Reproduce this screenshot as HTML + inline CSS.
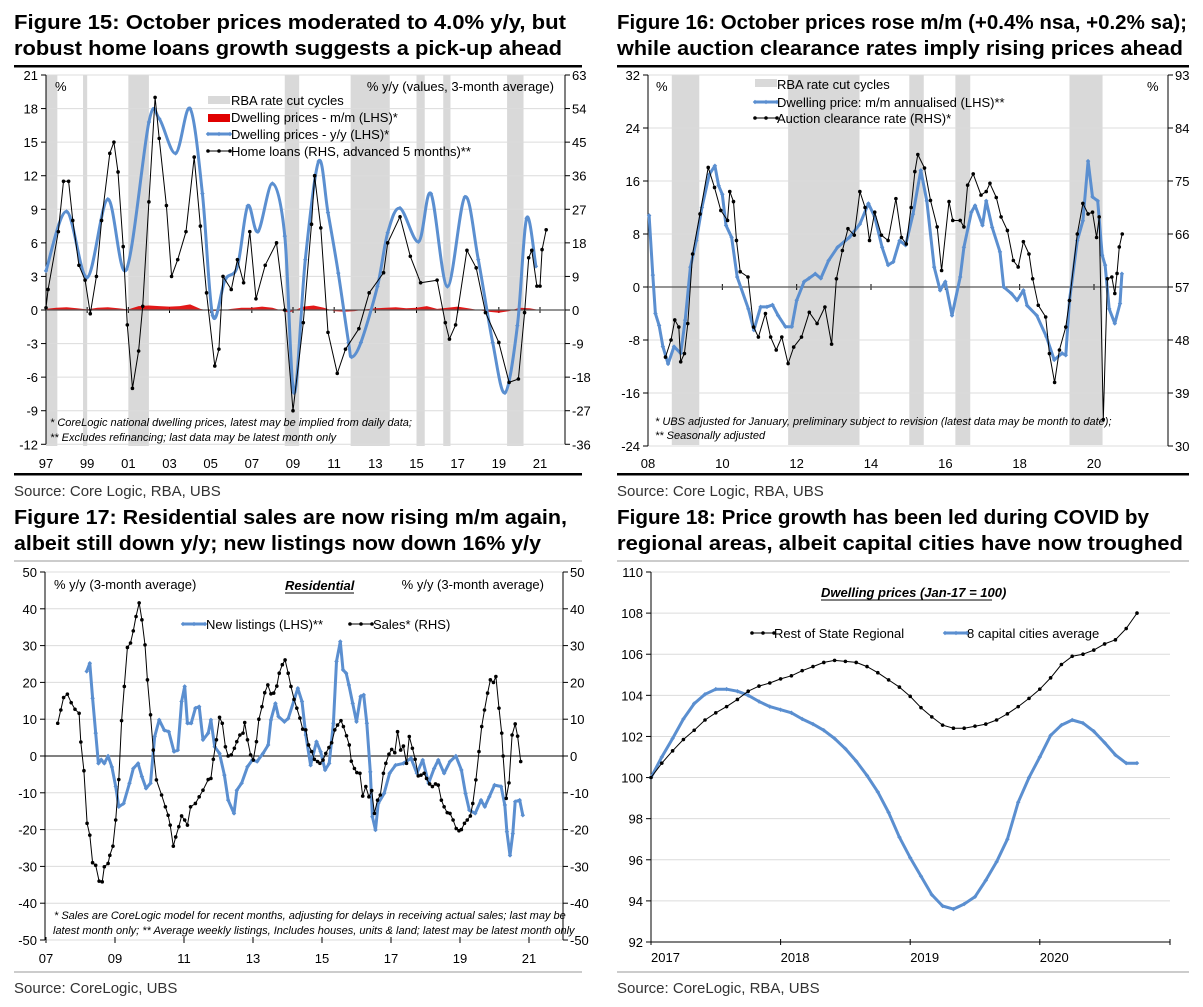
<!DOCTYPE html>
<html><head><meta charset="utf-8"><style>
html,body{margin:0;padding:0;background:#fff}
svg{display:block;font-family:"Liberation Sans",Arial,sans-serif}
.t{font-weight:bold;font-size:20px;fill:#000}
.tk{font-size:13px;fill:#000}
.lg{font-size:13px;fill:#000}
.fn{font-size:11px;font-style:italic;fill:#000}
.src{font-size:15px;fill:#333}
</style></head><body>
<svg id="s" width="1203" height="1007" viewBox="0 0 1203 1007" xmlns="http://www.w3.org/2000/svg">
<g>
<text class="t" x="14" y="29" textLength="552" lengthAdjust="spacingAndGlyphs">Figure 15: October prices moderated to 4.0% y/y, but</text>
<text class="t" x="14" y="55" textLength="548" lengthAdjust="spacingAndGlyphs">robust home loans growth suggests a pick-up ahead</text></g>
<g>
<text class="t" x="617" y="29" textLength="570" lengthAdjust="spacingAndGlyphs">Figure 16: October prices rose m/m (+0.4% nsa, +0.2% sa);</text>
<text class="t" x="617" y="55" textLength="566" lengthAdjust="spacingAndGlyphs">while auction clearance rates imply rising prices ahead</text></g>
<g>
<text class="t" x="14" y="524" textLength="553" lengthAdjust="spacingAndGlyphs">Figure 17: Residential sales are now rising m/m again,</text>
<text class="t" x="14" y="550" textLength="527" lengthAdjust="spacingAndGlyphs">albeit still down y/y; new listings now down 16% y/y</text></g>
<g>
<text class="t" x="617" y="524" textLength="532" lengthAdjust="spacingAndGlyphs">Figure 18: Price growth has been led during COVID by</text>
<text class="t" x="617" y="550" textLength="566" lengthAdjust="spacingAndGlyphs">regional areas, albeit capital cities have now troughed</text></g>
<rect x="14" y="65" width="568" height="2.5" fill="#000"/>
<rect x="617" y="65" width="572" height="2.5" fill="#000"/>
<rect x="14" y="473" width="568" height="2.5" fill="#000"/>
<rect x="617" y="473" width="572" height="2.5" fill="#000"/>
<rect x="14" y="560" width="568" height="2" fill="#ccc"/>
<rect x="617" y="560" width="572" height="2" fill="#ccc"/>
<rect x="14" y="971" width="568" height="2" fill="#ccc"/>
<rect x="617" y="971" width="572" height="2" fill="#ccc"/>
<text class="src" x="14" y="496">Source:  Core Logic, RBA, UBS</text>
<text class="src" x="617" y="496">Source:  Core Logic, RBA, UBS</text>
<text class="src" x="14" y="993">Source: CoreLogic, UBS</text>
<text class="src" x="617" y="993">Source: CoreLogic, RBA, UBS</text>
</svg>
<script>
// ---------- Figure 15 data ----------
const f15Shade=[[1997.0,1997.55],[1998.8,1999.0],[2001.0,2002.0],[2008.6,2009.3],[2011.8,2013.7],[2015.0,2015.4],[2016.3,2016.65],[2019.4,2020.2]];
const f15YoyT=[1997.0,1998.0,1999.0,2000.0,2000.9,2002.0,2002.5,2003.3,2004.0,2004.6,2005.1,2005.7,2006.3,2006.8,2007.3,2008.0,2008.6,2009.05,2009.6,2010.25,2010.7,2011.2,2011.7,2011.85,2012.3,2013.1,2013.6,2014.2,2015.1,2015.7,2016.5,2017.35,2018.0,2018.7,2019.3,2019.9,2020.35,2020.8];
const f15YoyV=[3.5,8.8,2.9,9.9,3.6,16.8,17.1,14.0,18,10.4,-0.5,2.7,3.9,9.3,7.0,11.3,6.6,-7.4,4.5,13.3,8.7,3.3,-2.9,-4.2,-2.9,2.1,6.9,9.1,6.1,10.4,2.1,10.1,4.5,-2.9,-7.4,-1.4,8.2,3.9];
const f15LoanT=[1997.0,1997.1,1997.6,1997.85,1998.1,1998.3,1998.6,1998.9,1999.15,1999.45,1999.7,2000.1,2000.3,2000.5,2000.75,2000.95,2001.2,2001.5,2001.7,2002.0,2002.3,2002.5,2002.85,2003.1,2003.4,2003.8,2004.2,2004.5,2004.8,2005.2,2005.4,2005.6,2006.0,2006.3,2006.6,2006.9,2007.2,2007.65,2008.2,2008.6,2009.0,2009.5,2009.9,2010.05,2010.35,2010.7,2011.15,2011.55,2012.2,2012.7,2013.4,2013.6,2014.2,2014.7,2015.2,2016.0,2016.4,2016.6,2016.9,2017.45,2017.9,2018.35,2019.0,2019.5,2019.95,2020.25,2020.45,2020.6,2020.85,2021.0,2021.1,2021.3];
const f15LoanV=[0.6,5.5,21,34.5,34.5,24,12,8,-1,9,24,42,45,37,17,-4,-21,-11,1,29,57,46,28,9,13.5,21,41,22.5,4.6,-15,-10.5,9,5.5,13.5,7.3,21,3,12,18,0,-27,-3.4,23,36,22,-6,-17,-10.5,-5,4.6,10,18,25,14.4,7.3,8,-3.4,-7.8,-4,16,11.3,-0.7,-8.7,-19.4,-18.5,-0.7,14,16,6.4,6.4,16.2,21.5];
const f15MomT=[1997.0,1997.5,1998.0,1998.5,1999.0,1999.5,2000.0,2000.5,2001.0,2001.5,2002.0,2002.5,2003.0,2003.5,2004.0,2004.5,2005.0,2005.5,2006.0,2006.5,2007.0,2007.5,2008.0,2008.8,2009.5,2010.0,2010.5,2011.0,2011.5,2012.0,2012.5,2013.0,2013.5,2014.0,2014.5,2015.0,2015.5,2016.0,2016.5,2017.0,2017.5,2018.0,2018.5,2019.0,2019.5,2020.0,2020.5,2020.8];
const f15MomV=[0.1,0.2,0.25,0.15,0.05,0.2,0.25,0.15,0.05,0.35,0.4,0.35,0.3,0.35,0.5,0.1,-0.1,-0.05,0.1,0.2,0.2,0.3,0.2,-0.25,0.3,0.4,0.2,-0.1,-0.15,-0.1,0.05,0.15,0.2,0.25,0.15,0.2,0.35,0.1,0.2,0.3,0.15,0.0,-0.15,-0.25,-0.1,0.2,0.15,0.05];
const f15LTicks=[21,18,15,12,9,6,3,0,-3,-6,-9,-12];
const f15RTicks=[63,54,45,36,27,18,9,0,-9,-18,-27,-36];
const f15XTicks=['97','99','01','03','05','07','09','11','13','15','17','19','21'];
// ---------- Figure 16 data ----------
const f16Shade=[[2008.64,2009.38],[2011.77,2013.69],[2015.03,2015.42],[2016.27,2016.67],[2019.34,2020.23]];
const f16DwT=[2008.03,2008.13,2008.2,2008.3,2008.4,2008.54,2008.7,2008.88,2009.0,2009.14,2009.3,2009.45,2009.65,2009.8,2009.9,2010.0,2010.1,2010.25,2010.4,2010.7,2010.85,2011.03,2011.2,2011.35,2011.5,2011.7,2011.87,2012.0,2012.2,2012.33,2012.5,2012.65,2012.86,2013.1,2013.42,2013.7,2013.93,2014.1,2014.3,2014.46,2014.6,2014.77,2014.93,2015.13,2015.34,2015.5,2015.7,2015.86,2016.0,2016.18,2016.4,2016.5,2016.7,2016.8,2017.0,2017.1,2017.26,2017.47,2017.57,2017.78,2017.93,2018.1,2018.2,2018.46,2018.72,2018.93,2019.14,2019.24,2019.34,2019.55,2019.7,2019.84,2019.96,2020.1,2020.22,2020.3,2020.41,2020.56,2020.7,2020.75];
const f16DwV=[10.8,1.8,-4,-5.8,-9,-11.6,-9,-10,-5,3,7,12,17,18.3,15.3,14,9.3,7.5,1.5,-3.3,-6.5,-3,-3,-2.7,-4.3,-6,-6,-2,0.8,1.3,2,1.3,4,6,7.5,9.5,12.6,10.6,6,3.3,3.8,7,6.3,11,17.6,13,3,-0.5,0.8,-4.3,1.5,6,11.3,12.3,9.3,13,9,5.3,0,-1,-2,-0.5,-2.8,-4.3,-7.5,-11,-10,-10.3,-2,7,10,19,13.6,13,4.8,3.3,-3.3,-5.5,-2.5,2];
const f16AcT=[2008.47,2008.62,2008.72,2008.83,2008.88,2008.98,2009.07,2009.2,2009.4,2009.62,2009.79,2009.96,2010.14,2010.2,2010.3,2010.38,2010.48,2010.69,2010.84,2010.97,2011.16,2011.3,2011.45,2011.6,2011.77,2011.92,2012.13,2012.34,2012.55,2012.76,2012.94,2013.07,2013.23,2013.38,2013.55,2013.7,2013.84,2013.96,2014.1,2014.28,2014.46,2014.67,2014.82,2014.95,2015.08,2015.18,2015.26,2015.44,2015.6,2015.78,2015.9,2016.1,2016.2,2016.4,2016.5,2016.6,2016.75,2016.96,2017.1,2017.2,2017.37,2017.5,2017.67,2017.83,2017.96,2018.1,2018.25,2018.35,2018.5,2018.7,2018.8,2018.94,2019.07,2019.24,2019.34,2019.55,2019.7,2019.84,2019.96,2020.07,2020.14,2020.25,2020.36,2020.48,2020.56,2020.62,2020.68,2020.76];
const f16AcV=[45.1,48,51.4,50.2,44.3,45.7,50.8,62.6,69.4,77.3,73.9,70,68.3,73.2,71.5,64.9,59.6,58.7,50.2,48.5,52.5,48.5,46.3,48.5,44,46.8,48.5,52.7,50.8,53.6,47.3,58.4,63.2,66.9,65.8,73.2,70.5,64.9,69.7,65.8,64.9,72,65.4,64.3,70.5,76.6,79.5,77.2,71.7,67.2,59.8,71.5,68.3,68.3,67.2,74.3,76.2,72.6,73.2,74.6,72.2,68.9,66.6,61.5,60.4,64.7,62.6,58.4,53.9,51.9,45.7,40.8,46.3,50.2,54.7,66,71.2,69.4,69.7,65.4,68.9,34.5,58.4,58.7,55.9,59.3,63.8,66];
const f16LTicks=[32,24,16,8,0,-8,-16,-24];
const f16RTicks=[93,84,75,66,57,48,39,30];
const f16XTicks=['08','10','12','14','16','18','20'];
// ---------- Figure 17 data ----------
const f17NlT=[2008.18,2008.27,2008.35,2008.44,2008.52,2008.6,2008.69,2008.8,2008.91,2009.02,2009.11,2009.25,2009.42,2009.53,2009.67,2009.78,2009.9,2010.03,2010.15,2010.28,2010.43,2010.56,2010.71,2010.82,2010.93,2011.02,2011.1,2011.21,2011.33,2011.44,2011.55,2011.7,2011.78,2011.89,2012.03,2012.17,2012.28,2012.45,2012.53,2012.67,2012.84,2012.98,2013.12,2013.29,2013.44,2013.52,2013.65,2013.74,2013.91,2014.02,2014.19,2014.3,2014.42,2014.53,2014.67,2014.84,2014.96,2015.09,2015.21,2015.33,2015.42,2015.53,2015.61,2015.7,2015.78,2015.89,2016.0,2016.12,2016.21,2016.3,2016.4,2016.46,2016.55,2016.63,2016.8,2016.96,2017.13,2017.36,2017.58,2017.75,2017.92,2018.09,2018.25,2018.37,2018.54,2018.71,2018.88,2019.04,2019.16,2019.27,2019.44,2019.61,2019.72,2019.85,2020.0,2020.19,2020.3,2020.36,2020.45,2020.53,2020.6,2020.73,2020.82];
const f17NlV=[23,25.2,15.7,6.2,-2,-1,-2,0,-3,-8.3,-13.8,-12.9,-7.4,-3.4,-2,-5.6,-8.8,-7.4,5.3,9.8,7,6.6,1.2,1.6,14.8,18.9,8.9,8.9,13,13.4,4.4,6.2,9.8,2.5,0.7,-5.2,-12,-15.6,-9.3,-7.4,-2.9,-1.1,-1.5,0.7,3,9.8,14.3,10.7,9.3,10.2,15.2,18.4,14.8,5.7,-2.5,3.9,1.2,-3.8,-2,8.9,25.7,31.1,23.4,22.5,19.3,14.3,9.3,16.2,16.6,8.9,-4.3,-16.5,-20.1,-12.9,-10.2,-4.7,-2.5,-2,-0.6,-4.7,-1.1,-7.4,-3.4,-1.1,-4.7,-1.5,0,-3.8,-10.2,-14.7,-15.6,-12,-13.8,-11.1,-7.9,-8.3,-13.3,-20.6,-27,-21.1,-12.4,-12,-16.1];
const f17SaT=[2007.34,2007.43,2007.51,2007.62,2007.73,2007.84,2007.96,2008.01,2008.1,2008.19,2008.27,2008.35,2008.44,2008.54,2008.63,2008.69,2008.8,2008.85,2008.94,2009.02,2009.11,2009.19,2009.27,2009.36,2009.45,2009.53,2009.61,2009.7,2009.78,2009.87,2009.94,2010.03,2010.11,2010.2,2010.35,2010.46,2010.54,2010.6,2010.69,2010.76,2010.85,2010.93,2011.02,2011.1,2011.19,2011.33,2011.44,2011.55,2011.7,2011.78,2011.85,2011.94,2012.03,2012.11,2012.2,2012.28,2012.37,2012.46,2012.53,2012.62,2012.71,2012.76,2012.84,2012.93,2013.01,2013.1,2013.17,2013.26,2013.34,2013.43,2013.52,2013.6,2013.69,2013.76,2013.85,2013.93,2014.02,2014.1,2014.19,2014.27,2014.36,2014.44,2014.53,2014.61,2014.7,2014.78,2014.87,2014.94,2015.03,2015.11,2015.2,2015.28,2015.37,2015.45,2015.55,2015.62,2015.71,2015.79,2015.85,2015.94,2016.01,2016.1,2016.18,2016.27,2016.36,2016.44,2016.52,2016.61,2016.69,2016.78,2016.85,2016.94,2017.02,2017.11,2017.19,2017.28,2017.36,2017.45,2017.53,2017.62,2017.7,2017.79,2017.87,2017.96,2018.03,2018.12,2018.2,2018.29,2018.37,2018.46,2018.54,2018.63,2018.71,2018.8,2018.89,2018.97,2019.04,2019.13,2019.21,2019.3,2019.37,2019.46,2019.55,2019.63,2019.71,2019.8,2019.88,2019.97,2020.04,2020.13,2020.21,2020.25,2020.34,2020.42,2020.51,2020.6,2020.67,2020.76];
const f17SaV=[8.9,12.5,15.9,16.8,14.5,12.7,11.6,3.8,-4,-18.3,-21.5,-29,-29.7,-34,-34.2,-30.1,-29.2,-27,-24.5,-17.4,-6.4,9.6,18.9,29.5,30.7,34,37.9,41.6,37,30.2,20.7,11.2,1.6,-6.5,-10.6,-13.8,-16.1,-18.8,-24.5,-22,-19.2,-16.3,-17.4,-18.8,-13.8,-12.9,-11.1,-9.3,-6.4,-6.1,-0.9,4.4,10.5,8.9,2.5,0,0.3,2.1,3.9,5.7,6.2,9.1,4.4,0.3,-1.1,3.9,10,13.4,17.2,19.3,16.9,17.1,19,22.5,24.8,26.1,22.5,18.9,15.4,13,10.3,7.3,7.1,3,1.2,-0.9,-1.5,-2,-1.1,0.7,2.3,3.6,7.1,8.4,9.6,8,5.5,3,-1.4,-3.4,-4.5,-4.7,-10.9,-8.3,-11.1,-9.4,-15.6,-12,-10.6,-4.7,-2,0.5,1.8,0.9,6.6,1.6,2.7,-2,5.3,2.1,-0.9,-5.4,-5.2,-4.7,-6.1,-7.6,-8.3,-7.6,-7.9,-12,-13.8,-15.4,-15.6,-17.4,-19.7,-20.3,-20,-18.3,-17.4,-16.3,-12.9,-6.5,1.2,8,12.5,17.1,20.7,20,21.6,13,6.2,0,-11.5,-7.3,5.7,8.7,5.4,-1.5];
const f17Ticks=[50,40,30,20,10,0,-10,-20,-30,-40,-50];
const f17XTicks=['07','09','11','13','15','17','19','21'];
// ---------- Figure 18 data ----------
const f18Regional=[100,100.7,101.3,101.85,102.3,102.8,103.15,103.45,103.8,104.2,104.45,104.6,104.8,104.95,105.2,105.4,105.6,105.7,105.65,105.6,105.4,105.1,104.75,104.4,103.95,103.4,102.95,102.55,102.4,102.4,102.5,102.6,102.8,103.1,103.45,103.85,104.3,104.85,105.5,105.9,106.0,106.2,106.5,106.7,107.25,108.0];
const f18Capitals=[100,101.0,101.9,102.85,103.6,104.05,104.3,104.3,104.2,104.0,103.7,103.45,103.3,103.15,102.85,102.6,102.3,101.9,101.4,100.8,100.1,99.3,98.3,97.1,96.1,95.2,94.3,93.75,93.6,93.85,94.2,95.0,95.9,97.0,98.8,100.0,101.0,102.05,102.55,102.8,102.65,102.25,101.7,101.1,100.7,100.7];
const f18Ticks=[110,108,106,104,102,100,98,96,94,92];
const f18XTicks=['2017','2018','2019','2020'];

const NS='http://www.w3.org/2000/svg';
const svg=document.getElementById('s');
const BLUE='#5b8fd0';
function el(tag,attrs,parent,txt){const e=document.createElementNS(NS,tag);for(const k in attrs)e.setAttribute(k,attrs[k]);if(txt!==undefined)e.textContent=txt;(parent||svg).appendChild(e);return e;}
function grp(name){const g=el('g',{});return g;}
function lin(d0,d1,r0,r1){return v=>r0+(v-d0)*(r1-r0)/(d1-d0);}
function smoothPath(xs,ys){
  let d='M'+xs[0].toFixed(1)+','+ys[0].toFixed(1);
  for(let i=0;i<xs.length-1;i++){
    const x0=xs[Math.max(i-1,0)],y0=ys[Math.max(i-1,0)],x1=xs[i],y1=ys[i],x2=xs[i+1],y2=ys[i+1],x3=xs[Math.min(i+2,xs.length-1)],y3=ys[Math.min(i+2,xs.length-1)];
    const c1x=x1+(x2-x0)/6,c1y=y1+(y2-y0)/6,c2x=x2-(x3-x1)/6,c2y=y2-(y3-y1)/6;
    d+=` C${c1x.toFixed(1)},${c1y.toFixed(1)} ${c2x.toFixed(1)},${c2y.toFixed(1)} ${x2.toFixed(1)},${y2.toFixed(1)}`;
  }
  return d;
}
function series(g,xs,ys,color,w,mk,smooth){
  let p;
  if(smooth){p=el('path',{d:smoothPath(xs,ys),fill:'none',stroke:color,'stroke-width':w},g);}
  else{const pts=xs.map((x,i)=>x.toFixed(1)+','+ys[i].toFixed(1)).join(' ');
  p=el('polyline',{points:pts,fill:'none',stroke:color,'stroke-width':w,'stroke-linejoin':'round'},g);}
  
  
  xs.forEach((x,i)=>{
    let m;
    if(mk==='dot'){m=el('circle',{cx:x,cy:ys[i],r:1.8,fill:color},g);}
    else{m=el('rect',{x:x-1.6,y:ys[i]-1.6,width:3.2,height:3.2,fill:color,transform:`rotate(45 ${x} ${ys[i]})`},g);}
    
    
  });
}
function frame(g,X0,X1,yl,ticks,leftTicks,rightTicks,ry,xLabels,xl,xlabelY,center){
  ticks.forEach((t,i)=>{const y=yl(t);
    el('line',{x1:X0,x2:X1,y1:y,y2:y,stroke:'#dcdcdc','stroke-width':1},g);
    el('line',{x1:X0-5,x2:X0,y1:y,y2:y,stroke:'#000'},g);
    const tl=el('text',{x:X0-8,y:y+5,'text-anchor':'end',class:'tk'},g,String(leftTicks[i]));
    
    
    if(rightTicks){el('line',{x1:X1,x2:X1+5,y1:y,y2:y,stroke:'#000'},g);
      const tr=el('text',{x:X1+7,y:y+5,class:'tk'},g,String(rightTicks[i]));
      
      }
  });
  el('line',{x1:X0,x2:X0,y1:yl(ticks[0]),y2:yl(ticks[ticks.length-1]),stroke:'#000'},g);
  if(rightTicks)el('line',{x1:X1,x2:X1,y1:yl(ticks[0]),y2:yl(ticks[ticks.length-1]),stroke:'#000'},g);
  xLabels.forEach((lab,i)=>{const x=xl(i);
    el('line',{x1:x,x2:x,y1:ry-3,y2:ry+3,stroke:'#000'},g);
    const t=el('text',{x:x,y:xlabelY,'text-anchor':center?'middle':'start',class:'tk'},g,lab);
    
    });
}
function legLine(g,x,y,color,w,mk){series(g,[x,x+11,x+22],[y,y,y],color,w,mk);}

// ===== Figure 15 =====
{const g=grp('figure-15-chart');
 const X=lin(1997,2021,46,540),Y=lin(0,21,310,75),YR=v=>Y(v/3);
 f15Shade.forEach(s=>{const r=el('rect',{x:X(s[0]),y:75,width:X(s[1])-X(s[0]),height:371,fill:'#d9d9d9'},g);
   
   });
 frame(g,46,565,Y,f15LTicks,f15LTicks,f15RTicks,Y(0),f15XTicks,i=>X(1997+2*i),468,true);
 const y0=Y(0);
 let pd='M'+X(f15MomT[0]).toFixed(1)+','+y0;
 f15MomT.forEach((t,i)=>{pd+=' L'+X(t).toFixed(1)+','+Y(f15MomV[i]).toFixed(1);});
 pd+=' L'+X(f15MomT[f15MomT.length-1]).toFixed(1)+','+y0+' Z';
 const ar=el('path',{d:pd,fill:'#e00000',opacity:0.9},g);
 
 
 el('line',{x1:46,x2:565,y1:y0,y2:y0,stroke:'#555','stroke-width':1.3},g);
 series(g,f15YoyT.map(X),f15YoyV.map(Y),BLUE,3,'dia',true);
 series(g,f15LoanT.map(X),f15LoanV.map(YR),'#000',1,'dot');
 el('text',{x:55,y:91,class:'tk'},g,'%');
 el('text',{x:554,y:91,'text-anchor':'end',class:'tk'},g,'% y/y (values, 3-month average)');
 const L=grp('figure-15-legend');g.appendChild(L);
 el('rect',{x:208,y:96,width:22,height:8,fill:'#d9d9d9'},L);el('text',{x:231,y:105,class:'lg'},L,'RBA rate cut cycles');
 el('rect',{x:208,y:114,width:22,height:8,fill:'#e00000'},L);el('text',{x:231,y:122,class:'lg'},L,'Dwelling prices - m/m (LHS)*');
 legLine(L,208,134,BLUE,3,'dia');el('text',{x:231,y:139,class:'lg'},L,'Dwelling prices - y/y (LHS)*');
 legLine(L,208,151,'#000',1,'dot');el('text',{x:231,y:156,class:'lg'},L,'Home loans (RHS, advanced 5 months)**');
 el('text',{x:50,y:426,class:'fn'},g,'* CoreLogic national dwelling prices, latest may be implied from daily data;');
 el('text',{x:50,y:441,class:'fn'},g,'** Excludes refinancing; last data may be latest month only');
}
// ===== Figure 16 =====
{const g=grp('figure-16-chart');
 const X=lin(2008,2020,648,1094),Y=lin(0,32,287,75),YR=v=>Y((v-57)*8/9);
 f16Shade.forEach(s=>{const r=el('rect',{x:X(s[0]),y:75,width:X(s[1])-X(s[0]),height:370,fill:'#d9d9d9'},g);
   
   });
 frame(g,648,1168,Y,f16LTicks,f16LTicks,f16RTicks,Y(0),f16XTicks,i=>X(2008+2*i),468,true);
 el('line',{x1:648,x2:1168,y1:Y(0),y2:Y(0),stroke:'#555','stroke-width':1.3},g);
 series(g,f16DwT.map(X),f16DwV.map(Y),BLUE,3,'dia');
 series(g,f16AcT.map(X),f16AcV.map(YR),'#000',1,'dot');
 el('text',{x:656,y:91,class:'tk'},g,'%');
 el('text',{x:1147,y:91,class:'tk'},g,'%');
 const L=grp('figure-16-legend');g.appendChild(L);
 el('rect',{x:755,y:79,width:22,height:8,fill:'#d9d9d9'},L);el('text',{x:777,y:89,class:'lg'},L,'RBA rate cut cycles');
 legLine(L,755,102,BLUE,3,'dia');el('text',{x:777,y:107,class:'lg'},L,'Dwelling price: m/m annualised (LHS)**');
 legLine(L,755,118,'#000',1,'dot');el('text',{x:777,y:123,class:'lg'},L,'Auction clearance rate (RHS)*');
 el('text',{x:655,y:425,class:'fn'},g,'* UBS adjusted for January, preliminary subject to revision (latest data may be month to date);');
 el('text',{x:655,y:439,class:'fn'},g,'** Seasonally adjusted');
}
// ===== Figure 17 =====
{const g=grp('figure-17-chart');
 const X=lin(2007,2021,46,529),Y=lin(0,50,756,572);
 frame(g,45,563,Y,f17Ticks,f17Ticks,f17Ticks,Y(-50),f17XTicks,i=>X(2007+2*i),963,true);
 el('line',{x1:45,x2:563,y1:Y(0),y2:Y(0),stroke:'#000','stroke-width':1},g);
 series(g,f17NlT.map(X),f17NlV.map(Y),BLUE,3,'dia');
 series(g,f17SaT.map(X),f17SaV.map(Y),'#000',1,'dot');
 el('text',{x:54,y:589,class:'tk'},g,'% y/y (3-month average)');
 el('text',{x:544,y:589,'text-anchor':'end',class:'tk'},g,'% y/y (3-month average)');
 el('text',{x:285,y:590,class:'tk','font-weight':'bold','font-style':'italic'},g,'Residential');
 el('line',{x1:285,x2:354,y1:593,y2:593,stroke:'#000'},g);
 const L=grp('figure-17-legend');g.appendChild(L);
 legLine(L,183,624,BLUE,3,'dia');el('text',{x:206,y:629,class:'lg'},L,'New listings (LHS)**');
 legLine(L,350,624,'#000',1,'dot');el('text',{x:373,y:629,class:'lg'},L,'Sales* (RHS)');
 el('text',{x:54,y:919,class:'fn'},g,'* Sales are CoreLogic model for recent months, adjusting for delays in receiving actual sales; last may be');
 el('text',{x:53,y:934,class:'fn'},g,'latest month only; ** Average weekly listings, Includes houses, units & land; latest may be latest month only');
}
// ===== Figure 18 =====
{const g=grp('figure-18-chart');
 const X=lin(0,12,651,780.6),Y=lin(92,110,942,572);
 frame(g,651,1170,Y,f18Ticks,f18Ticks,null,Y(92),f18XTicks,i=>X(12*i),962,false);
 el('line',{x1:651,x2:1170,y1:Y(92),y2:Y(92),stroke:'#000'},g);
 el('line',{x1:1170,x2:1170,y1:Y(92)-3,y2:Y(92)+3,stroke:'#000'},g);
 series(g,f18Capitals.map((v,i)=>X(i)),f18Capitals.map(Y),BLUE,3,'dia');
 series(g,f18Regional.map((v,i)=>X(i)),f18Regional.map(Y),'#000',1,'dot');
 el('text',{x:821,y:597,class:'tk','font-weight':'bold','font-style':'italic'},g,'Dwelling prices (Jan-17 = 100)');
 el('line',{x1:821,x2:992,y1:600,y2:600,stroke:'#000'},g);
 const L=grp('figure-18-legend');g.appendChild(L);
 legLine(L,752,633,'#000',1,'dot');el('text',{x:774,y:638,class:'lg'},L,'Rest of State Regional');
 legLine(L,945,633,BLUE,3,'dia');el('text',{x:967,y:638,class:'lg'},L,'8 capital cities average');
}
</script>
</body></html>
